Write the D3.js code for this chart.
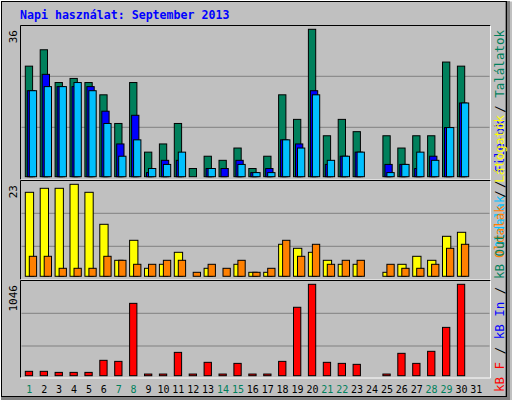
<!DOCTYPE html>
<html><head><meta charset="utf-8">
<script src="https://cdn.jsdelivr.net/npm/d3@7"></script>
<style>body{margin:0;background:#fff}</style></head>
<body><svg id="c" width="512" height="400"></svg>
<script>
const days = d3.range(1, 32);
const weekend = [1,7,8,14,15,21,22,28,29];
const hits  = [27,31,23,24,23,20,13,23,6,8,13,2,5,4,7,2,5,20,14,36,10,14,11,0,10,7,10,10,28,27,0];
const files = [21,25,22,22,22,16,8,15,1,4,4,0,2,2,4,1,2,9,8,21,3,5,6,0,3,3,2,5,12,18,0];
const pages = [21,22,22,23,21,13,5,9,2,3,6,0,2,0,3,1,1,9,7,20,4,5,6,0,1,3,6,4,12,18,0];
const visits= [21,22,22,23,21,13,4,9,2,3,6,0,2,0,3,1,1,8,7,6,4,3,3,0,1,3,5,4,10,11,0];
const sites = [5,5,2,2,2,5,4,3,3,4,4,1,3,2,4,1,2,9,5,8,3,4,4,0,3,2,2,3,7,8,0];
const kbytes= [50,50,38,38,38,176,164,828,19,19,267,19,153,19,141,19,19,164,783,1046,153,141,130,0,19,256,141,279,553,1046,0];
const maxTop = 36, maxMid = 23, maxBot = 1046;

const svg = d3.select("#c");
svg.append("rect").attr("width",512).attr("height",400).attr("fill","#c0c0c0");
// bevel
svg.append("path").attr("d","M0,400V0H512").attr("stroke","#fff").attr("stroke-width",3).attr("fill","none");
svg.append("path").attr("d","M1,398.5H507.5V1").attr("stroke","#808080").attr("stroke-width",5).attr("fill","none");
svg.append("rect").attr("x",1.5).attr("y",1.5).attr("width",505).attr("height",395).attr("fill","none").attr("stroke","#000").attr("stroke-width",1);

const x = d3.scaleLinear().domain([1,31]).range([25.3,472.3]);
const L = 20.5, R = 490.5;
const panels = [
  {top:25.5, base:176.7, ymax:maxTop, bot:179.5},
  {top:180.5, base:276.3, ymax:maxMid, bot:279.5},
  {top:280.5, base:375.7, ymax:maxBot, bot:377.5}
];
panels.forEach(p=>{
  p.y = d3.scaleLinear().domain([0,p.ymax]).range([p.base, p.base - (p.ymax===maxTop?147.4:(p.ymax===maxMid?92:91.4))]);
  svg.append("path").attr("d",`M${L},${p.bot}V${p.top}H${R}`).attr("stroke","#000").attr("fill","none");
  svg.append("path").attr("d",`M${L},${p.bot+0.5}H${R}V${p.top}`).attr("stroke","#fff").attr("fill","none");
  const gy = [p.base-(p.base-p.top)*0.66, p.base-(p.base-p.top)*0.33];
});
const grid = [[76.3,127.3],[213.3,246.3],[313.3,346]];
grid.forEach(g=>g.forEach(v=>svg.append("line").attr("x1",L+1).attr("x2",R-1).attr("y1",v).attr("y2",v).attr("stroke","#808080")));

function bars(data, p, off, w, color){
  svg.append("g").selectAll("rect").data(data.map((v,i)=>({v,d:days[i]})).filter(o=>o.v>0)).join("rect")
    .attr("x",o=>x(o.d)+off).attr("width",w)
    .attr("y",o=>p.y(o.v)).attr("height",o=>Math.max(1,p.base-p.y(o.v)))
    .attr("fill",color).attr("stroke","#000").attr("stroke-width",1);
}
bars(hits, panels[0], 0, 7.3, "#00805c");
bars(files, panels[0], 2, 7.3, "#0000ff");
bars(pages, panels[0], 4, 7.3, "#00c0ff");
bars(visits, panels[1], 0, 8.3, "#ffff00");
bars(sites, panels[1], 4, 7.3, "#ff8000");
bars(kbytes, panels[2], 0, 7.3, "#ff0000");

const mono = "DejaVu Sans Mono";
svg.append("text").attr("x",20).attr("y",19).attr("font-family",mono).attr("font-weight","bold")
  .attr("font-size",11.6).attr("fill","#0000ff").text("Napi használat: September 2013");

[["36",30],["23",185],["1046",285]].forEach(([t,y])=>{
  svg.append("text").attr("transform",`translate(17,${y}) rotate(-90)`).attr("text-anchor","end")
    .attr("font-family",mono).attr("font-size",11).attr("fill","#000").text(t);
});

svg.append("g").selectAll("text").data(days).join("text")
  .attr("x",d=>x(d)+4).attr("y",393).attr("text-anchor","middle")
  .attr("font-family",mono).attr("font-size",10)
  .attr("fill",d=>weekend.includes(d)?"#00805c":"#000").text(d=>d);

function vlabel(y, anchor, parts){
  const t = svg.append("text").attr("transform",`translate(504,${y}) rotate(-90)`).attr("text-anchor",anchor)
    .attr("font-family",mono).attr("font-size",12.5);
  parts.forEach(([s,c])=>t.append("tspan").attr("fill",c).text(s));
}
vlabel(30,"end",[["Oldalak","#00c0ff"],[" / ","#000"],["File-ok","#0000ff"],[" / ","#000"],["Találatok","#00805c"]]);
vlabel(258,"start",[["Oldalak","#ff8000"],[" / ","#000"],["Látogatók","#ffff00"]]);
vlabel(392,"start",[["kB F","#ff0000"],[" / ","#000"],["kB In","#0000ff"],[" / ","#000"],["kB Out","#00805c"]]);
</script></body></html>
